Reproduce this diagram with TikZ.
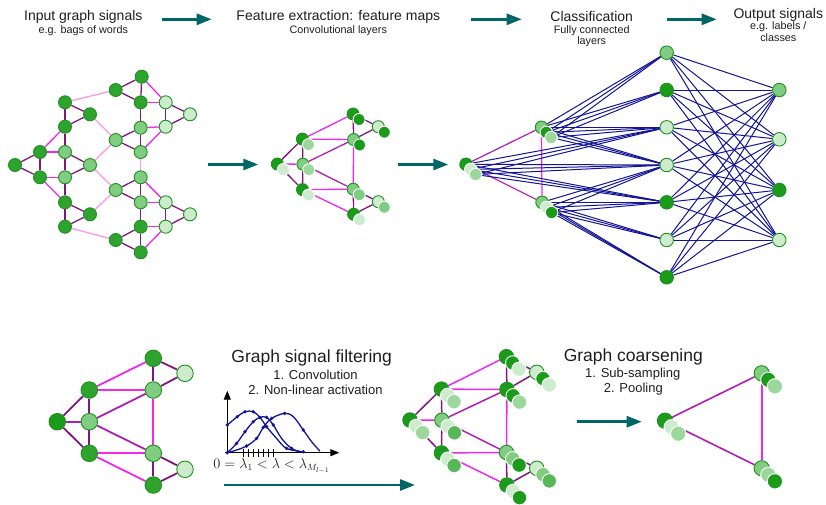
\documentclass[tikz,border=0pt]{standalone}
\usepackage{fontspec}
\setmainfont{Liberation Sans}
\usetikzlibrary{arrows.meta}
\pgfdeclarelayer{bg}
\pgfsetlayers{bg,main}

\definecolor{gDark}{RGB}{46,163,46}
\definecolor{gDeep}{RGB}{26,155,26}
\definecolor{gMid}{RGB}{128,204,128}
\definecolor{gSoft}{RGB}{156,216,156}
\definecolor{gLight}{RGB}{205,236,205}
\definecolor{gMidDark}{RGB}{88,184,88}
\definecolor{gEdge}{RGB}{30,145,30}
\definecolor{ePlum}{RGB}{125,25,125}
\definecolor{ePurple}{RGB}{175,30,175}
\definecolor{eMagenta}{RGB}{238,40,238}
\definecolor{ePink}{RGB}{255,150,238}
\definecolor{eNavy}{RGB}{20,20,150}
\definecolor{aTeal}{RGB}{0,102,102}
\definecolor{ink}{RGB}{30,30,30}

\tikzset{
  vtx/.style={circle, inner sep=0pt, draw=gEdge, line width=0.9pt},
  vs/.style={vtx, minimum size=13pt},
  vh/.style={vtx, minimum size=13.5pt},
  vl/.style={vtx, minimum size=16.5pt},
  stk/.style={circle, inner sep=0pt, draw=white, line width=0.9pt},
  plumE/.style={draw=ePlum, line width=#1},
  plumE/.default=1.3pt,
  purpleE/.style={draw=ePurple, line width=#1},
  purpleE/.default=1.3pt,
  magE/.style={draw=eMagenta, line width=#1},
  magE/.default=1.3pt,
  pinkE/.style={draw=ePink, line width=1.3pt},
  navyE/.style={draw=eNavy, line width=1pt},
  flow/.style={draw=aTeal, line width=2.8pt, -{Triangle[length=15pt,width=11pt]}},
  hd/.style={font=\fontsize{14}{16}\selectfont, text=ink, inner sep=0pt, anchor=base},
  sub/.style={font=\fontsize{10.8}{12}\selectfont, text=ink, inner sep=0pt, anchor=base},
  big/.style={font=\fontsize{17.5}{20}\selectfont, text=ink, inner sep=0pt, anchor=base},
  mid/.style={font=\fontsize{13}{15}\selectfont, text=ink, inner sep=0pt, anchor=base},
}

% stacked feature circles: name, x, y, fills from back to front;
% size and offsets come from \stksize, \sdx, \sdy
\newcommand\duostack[5]{%
  \node[stk, minimum size=\stksize, draw=gEdge, fill=#4] (#1a) at (#2,#3) {};
  \node[stk, minimum size=\stksize, fill=#5] (#1b) at ({#2+\sdx},{#3+\sdy}) {};}
\newcommand\triostack[6]{%
  \node[stk, minimum size=\stksize, draw=gEdge, fill=#4] (#1a) at (#2,#3) {};
  \node[stk, minimum size=\stksize, fill=#5] (#1b) at ({#2+\sdx},{#3+\sdy}) {};
  \node[stk, minimum size=\stksize, fill=#6] (#1c) at ({#2+2*\sdx},{#3+2*\sdy}) {};}

\begin{document}
\begin{tikzpicture}[x=1pt, y=-1pt]
\useasboundingbox (0,0) rectangle (826,504);

% ---------------- headings and flow arrows ----------------
\node[hd] (tIn) at (83.3,20) {Input graph signals};
\node[sub] (sIn) at (83.3,33) {e.g. bags of words};
\node[hd] (tFeat) at (338.3,20) {Feature extraction: feature maps};
\node[sub] (sFeat) at (338.3,33) {Convolutional layers};
\node[hd] (tCls) at (591.7,21) {Classification};
\node[sub] (sCls1) at (591.7,33.3) {Fully connected};
\node[sub] (sCls2) at (591.7,44.3) {layers};
\node[hd] (tOut) at (778.3,18.5) {Output signals};
\node[sub] (sOut1) at (778.3,29.5) {e.g. labels /};
\node[sub] (sOut2) at (778.3,41.5) {classes};

\coordinate (a1s) at (161.7,19.3); \coordinate (a1e) at (211.7,19.3);
\coordinate (a2s) at (471,19.3);   \coordinate (a2e) at (521.7,19.3);
\coordinate (a3s) at (666.7,19.3); \coordinate (a3e) at (716.7,19.3);
\draw[flow] (a1s) -- (a1e);
\draw[flow] (a2s) -- (a2e);
\draw[flow] (a3s) -- (a3e);

\coordinate (a4s) at (208.3,164.5); \coordinate (a4e) at (258.3,164.5);
\coordinate (a5s) at (398.3,164.5); \coordinate (a5e) at (448.3,164.5);
\draw[flow] (a4s) -- (a4e);
\draw[flow] (a5s) -- (a5e);

% ---------------- input graph ----------------
\node[vs, fill=gDark]  (A1) at (141.7,76.7) {};
\node[vs, fill=gDark]  (A2) at (115.7,90) {};
\node[vs, fill=gDark]  (A3) at (140.7,102.3) {};
\node[vs, fill=gLight] (A4) at (165.7,102.3) {};
\node[vs, fill=gLight] (A5) at (190,114.3) {};
\node[vs, fill=gLight] (A6) at (165.7,126.7) {};
\node[vs, fill=gMid]   (A7) at (140.7,127.7) {};
\node[vs, fill=gMid]   (A8) at (115.7,140) {};
\node[vs, fill=gMid]   (A9) at (140.7,152) {};
\node[vs, fill=gDark]  (B1) at (65,102.3) {};
\node[vs, fill=gDark]  (B2) at (90,114.3) {};
\node[vs, fill=gDark]  (B3) at (65,126.7) {};
\node[vs, fill=gDark]  (C0) at (15,165) {};
\node[vs, fill=gDark]  (C1) at (40,152) {};
\node[vs, fill=gDark]  (C2) at (40,177.3) {};
\node[vs, fill=gMid]   (D1) at (65,152) {};
\node[vs, fill=gMid]   (D2) at (90,165) {};
\node[vs, fill=gMid]   (D3) at (65,177.3) {};
\node[vs, fill=gDark]  (E1) at (65,202.3) {};
\node[vs, fill=gDark]  (E2) at (90,214.3) {};
\node[vs, fill=gDark]  (E3) at (65,226.7) {};
\node[vs, fill=gMid]   (F1) at (115.7,190) {};
\node[vs, fill=gMid]   (F2) at (140.7,177.3) {};
\node[vs, fill=gMid]   (F3) at (140.7,202.3) {};
\node[vs, fill=gLight] (F4) at (165.7,202.3) {};
\node[vs, fill=gLight] (F5) at (190,214.3) {};
\node[vs, fill=gLight] (F6) at (165.7,226.7) {};
\node[vs, fill=gDark]  (F7) at (140.7,226.7) {};
\node[vs, fill=gDark]  (F8) at (115.7,240) {};
\node[vs, fill=gDark]  (F9) at (140.7,252.3) {};

\begin{pgfonlayer}{bg}
\foreach \a/\b in {A2/A1,A1/A3,A2/A3,A4/A5,A4/A6,A6/A5,A3/A7,A7/A8,A8/A9,A7/A9,
  B1/B2,B1/B3,B3/B2,B3/D1,C0/C1,C0/C2,C1/C2,D1/D2,D3/D2,D1/D3,D3/E1,
  E1/E2,E1/E3,E3/E2,F1/F2,F1/F3,F2/F3,F4/F5,F4/F6,F6/F5,F3/F7,F7/F8,F8/F9,F7/F9}
  \draw[plumE] (\a) -- (\b);
\foreach \a/\b in {A1/A4,A3/A4,A7/A6,A9/A6,B3/C1,C1/D1,C2/D3,C2/E1,F2/F4,F3/F4,F7/F6,F9/F6}
  \draw[magE] (\a) -- (\b);
\foreach \a/\b in {A9/F2,A2/B1,B2/A8,D2/A8,D2/F1,E2/F1,E3/F8}
  \draw[pinkE] (\a) -- (\b);
\end{pgfonlayer}

% ---------------- convolutional feature maps ----------------
\def\stksize{12pt}\def\sdx{6}\def\sdy{5.5}
\duostack{M0}{277.3}{164}{gDeep}{gLight}
\duostack{M1}{302.4}{139.1}{gDeep}{gSoft}
\duostack{M2}{302.9}{164.2}{gMid}{gSoft}
\duostack{M3}{302.5}{189.6}{gDeep}{gLight}
\duostack{M4}{353.1}{114}{gDeep}{gDeep}
\duostack{M5}{353.6}{139.5}{gMid}{gDeep}
\duostack{M6}{378.3}{126.7}{gLight}{gDeep}
\duostack{M7}{353.2}{189.2}{gMid}{gMid}
\duostack{M8}{378.3}{201.7}{gLight}{gMid}
\duostack{M9}{353.6}{214.3}{gDeep}{gLight}
\begin{pgfonlayer}{bg}
\draw[plumE] (M0a) -- (M1a);
\draw[plumE] (M0a) -- (M3a);
\draw[plumE] (M1a) -- (M2a);
\draw[plumE] (M2a) -- (M3a);
\draw[plumE] (M4a) -- (M5a);
\draw[plumE] (M7a) -- (M9a);
\draw[plumE] (M4a) -- (M6a);
\draw[plumE] (M5a) -- (M6a);
\draw[plumE] (M7a) -- (M8a);
\draw[plumE] (M9a) -- (M8a);
\draw[purpleE] (M2a) -- (M5a);
\draw[purpleE] (M2a) -- (M7a);
\draw[magE] (M0a) -- (M2a);
\draw[magE] (M1a) -- (M4a);
\draw[magE] (M1a) -- (M5a);
\draw[magE] (M3a) -- (M7a);
\draw[magE] (M3a) -- (M9a);
\draw[magE] (M5a) -- (M7a);
\end{pgfonlayer}

% ---------------- fully connected classifier ----------------
\def\stksize{12.5pt}\def\sdx{4.8}\def\sdy{5.1}
\triostack{K0}{466}{164.3}{gDeep}{gLight}{gSoft}
\triostack{K1}{541.5}{127.3}{gMid}{gDeep}{gSoft}
\triostack{K2}{542.0}{202.3}{gMid}{gLight}{gDeep}

\node[vh, fill=gMid]   (h1) at (666.7,52.7) {};
\node[vh, fill=gDeep]  (h2) at (666.7,90) {};
\node[vh, fill=gLight] (h3) at (666.7,127.3) {};
\node[vh, fill=gLight] (h4) at (666.7,165) {};
\node[vh, fill=gDeep]  (h5) at (666.7,202.3) {};
\node[vh, fill=gLight] (h6) at (666.7,240) {};
\node[vh, fill=gDeep]  (h7) at (666.7,277.3) {};

\node[vh, fill=gMid]   (o1) at (779.3,90) {};
\node[vh, fill=gLight] (o2) at (779.3,139.3) {};
\node[vh, fill=gDeep]  (o3) at (779.3,190) {};
\node[vh, fill=gLight] (o4) at (779.3,240) {};

\begin{pgfonlayer}{bg}
\draw[purpleE=1.2pt] (K0a) -- (K1a);
\draw[purpleE=1.2pt] (K0a) -- (K2a);
\draw[magE=1.2pt] (K1a) -- (K2a);
\foreach \s in {K1a,K1b,K1c}
  \foreach \h in {h1,h2,h3,h4}
    \draw[navyE] (\s) -- (\h);
\foreach \s in {K0a,K0b,K0c}
  \foreach \h in {h3,h4,h5}
    \draw[navyE] (\s) -- (\h);
\foreach \s in {K2a,K2b,K2c}
  \foreach \h in {h4,h5,h6,h7}
    \draw[navyE] (\s) -- (\h);
\foreach \h in {h1,h2,h3,h4,h5,h6,h7}
  \foreach \o in {o1,o2,o3,o4}
    \draw[navyE] (\h) -- (\o);
\end{pgfonlayer}

% ---------------- graph signal (bottom left) ----------------
\node[vl, fill=gDeep]  (P0) at (57.3,421.7) {};
\node[vl, fill=gDark]  (P1) at (89.3,390) {};
\node[vl, fill=gMid]   (P2) at (89.3,421.7) {};
\node[vl, fill=gDark]  (P3) at (89.3,453.3) {};
\node[vl, fill=gDark]  (P4) at (153.3,358.3) {};
\node[vl, fill=gMid]   (P5) at (153.3,390) {};
\node[vl, fill=gLight] (P6) at (185,373.3) {};
\node[vl, fill=gMid]   (P7) at (153.3,453.3) {};
\node[vl, fill=gLight] (P8) at (185,469.3) {};
\node[vl, fill=gDark]  (P9) at (153.3,485) {};
\begin{pgfonlayer}{bg}
\foreach \a/\b in {P0/P1,P0/P3,P1/P2,P2/P3,P4/P5,P7/P9,P4/P6,P5/P6,P7/P8,P9/P8}
  \draw[plumE=1.8pt] (\a) -- (\b);
\foreach \a/\b in {P0/P2,P2/P5,P2/P7}
  \draw[purpleE=1.8pt] (\a) -- (\b);
\foreach \a/\b in {P1/P4,P1/P5,P3/P7,P3/P9,P5/P7}
  \draw[magE=1.8pt] (\a) -- (\b);
\end{pgfonlayer}

% ---------------- spectral filters ----------------
\node[big] (tFilt) at (311.7,362.7) {Graph signal filtering};
\node[mid] (sFilt1) at (315.5,379) {1. Convolution};
\node[mid] (sFilt2) at (315.5,394.3) {2. Non-linear activation};

\begin{scope}[shift={(227.3,452.7)}, y=1pt]
  \draw[line width=1.3pt, -{Triangle[length=9pt,width=7pt]}] (0,-1) -- (0,62);
  \draw[line width=1.3pt, -{Triangle[length=9pt,width=7pt]}] (-2.5,0) -- (112,0);
  \foreach \t in {16,21,26,31,36,41,46}
    \draw[line width=1.1pt] (\t,-3.8) -- (\t,3.8);
  \draw[eNavy, line width=1.3pt] plot[smooth, tension=0.6] coordinates
    {(0,27.7) (10,36) (17.7,41) (26,41) (32.7,35.3) (39.3,26) (49.3,14.3) (59.3,4.3) (76,0.8)};
  \draw[eNavy, line width=1.3pt] plot[smooth, tension=0.6] coordinates
    {(0,0) (9.3,9.3) (17.7,21) (26,31) (32.7,35.3) (39.3,35.3) (46,27.7) (54.3,14.3) (64.3,4.3) (74.3,0.8)};
  \draw[eNavy, line width=1.3pt] plot[smooth, tension=0.6] coordinates
    {(0,0) (9.3,2.7) (19.3,6.7) (29.3,14.3) (36,25.3) (44.3,34.3) (57.3,39.3) (66,36) (76,22.7) (84.3,11) (92.7,1.5)};
  \foreach \p in {(0,27.7),(10,36),(17.7,41),(26,41),(32.7,35.3),(39.3,26),(59.3,4.3),(76,1),
                  (9.3,9.3),(17.7,21),(26,31),(39.3,35.3),(46,27.7),(64.3,4.3),
                  (19.3,6.7),(29.3,14.3),(36,25.3),(44.3,34.3),(57.3,39.3),(76,22.7),(0,0)}
    \fill[eNavy] \p circle (1.9pt);
\end{scope}
\node[inner sep=0pt, anchor=base, font=\fontsize{13.5}{15}\selectfont, text=ink] (lam) at (271.7,468.3)
  {$0=\lambda_1<\lambda<\lambda_{M_{l-1}}$};

\coordinate (a6s) at (224,485); \coordinate (a6e) at (415,485);
\draw[flow] (a6s) -- (a6e);

% ---------------- filtered feature maps ----------------
\def\stksize{14.5pt}\def\sdx{6.3}\def\sdy{6.3}
\triostack{Q0}{410}{420}{gDeep}{gLight}{gSoft}
\triostack{Q1}{441.4}{389.1}{gDeep}{gLight}{gSoft}
\triostack{Q2}{441.9}{420.2}{gMid}{gLight}{gMidDark}
\triostack{Q3}{441.5}{452.9}{gDeep}{gLight}{gMidDark}
\triostack{Q4}{506.4}{356.7}{gDeep}{gDeep}{gLight}
\triostack{Q5}{506.9}{389.5}{gDeep}{gDeep}{gSoft}
\triostack{Q6}{536.7}{372.3}{gLight}{gDeep}{gLight}
\triostack{Q7}{506.5}{452.5}{gMid}{gMid}{gDeep}
\triostack{Q8}{536.7}{468.3}{gLight}{gMid}{gMidDark}
\triostack{Q9}{506.9}{485}{gDeep}{gLight}{gDeep}
\begin{pgfonlayer}{bg}
\draw[plumE=1.5pt] (Q0a) -- (Q1a);
\draw[plumE=1.5pt] (Q0a) -- (Q3a);
\draw[plumE=1.5pt] (Q1a) -- (Q2a);
\draw[plumE=1.5pt] (Q2a) -- (Q3a);
\draw[plumE=1.5pt] (Q4a) -- (Q5a);
\draw[plumE=1.5pt] (Q7a) -- (Q9a);
\draw[plumE=1.5pt] (Q4a) -- (Q6a);
\draw[plumE=1.5pt] (Q5a) -- (Q6a);
\draw[plumE=1.5pt] (Q7a) -- (Q8a);
\draw[plumE=1.5pt] (Q9a) -- (Q8a);
\draw[purpleE=1.5pt] (Q2a) -- (Q5a);
\draw[purpleE=1.5pt] (Q2a) -- (Q7a);
\draw[magE=1.5pt] (Q0a) -- (Q2a);
\draw[magE=1.5pt] (Q1a) -- (Q4a);
\draw[magE=1.5pt] (Q1a) -- (Q5a);
\draw[magE=1.5pt] (Q3a) -- (Q7a);
\draw[magE=1.5pt] (Q3a) -- (Q9a);
\draw[magE=1.5pt] (Q5a) -- (Q7a);
\end{pgfonlayer}

% ---------------- coarsened graph ----------------
\node[big] (tCoarse) at (633.3,361.7) {Graph coarsening};
\node[mid] (sCoarse1) at (632.7,377.3) {1. Sub-sampling};
\node[mid] (sCoarse2) at (633.3,392.3) {2. Pooling};

\coordinate (a7s) at (576.7,421.7); \coordinate (a7e) at (641.7,421.7);
\draw[flow] (a7s) -- (a7e);

\def\stksize{15.3pt}\def\sdx{6.6}\def\sdy{6.5}
\triostack{R0}{665}{420.7}{gDeep}{gLight}{gSoft}
\triostack{R1}{761.7}{373.3}{gMid}{gDeep}{gSoft}
\triostack{R2}{761.7}{468.3}{gMid}{gSoft}{gDeep}
\begin{pgfonlayer}{bg}
\draw[purpleE=1.6pt] (R0a) -- (R1a);
\draw[purpleE=1.6pt] (R0a) -- (R2a);
\draw[magE=1.6pt] (R1a) -- (R2a);
\end{pgfonlayer}

\end{tikzpicture}
\end{document}
